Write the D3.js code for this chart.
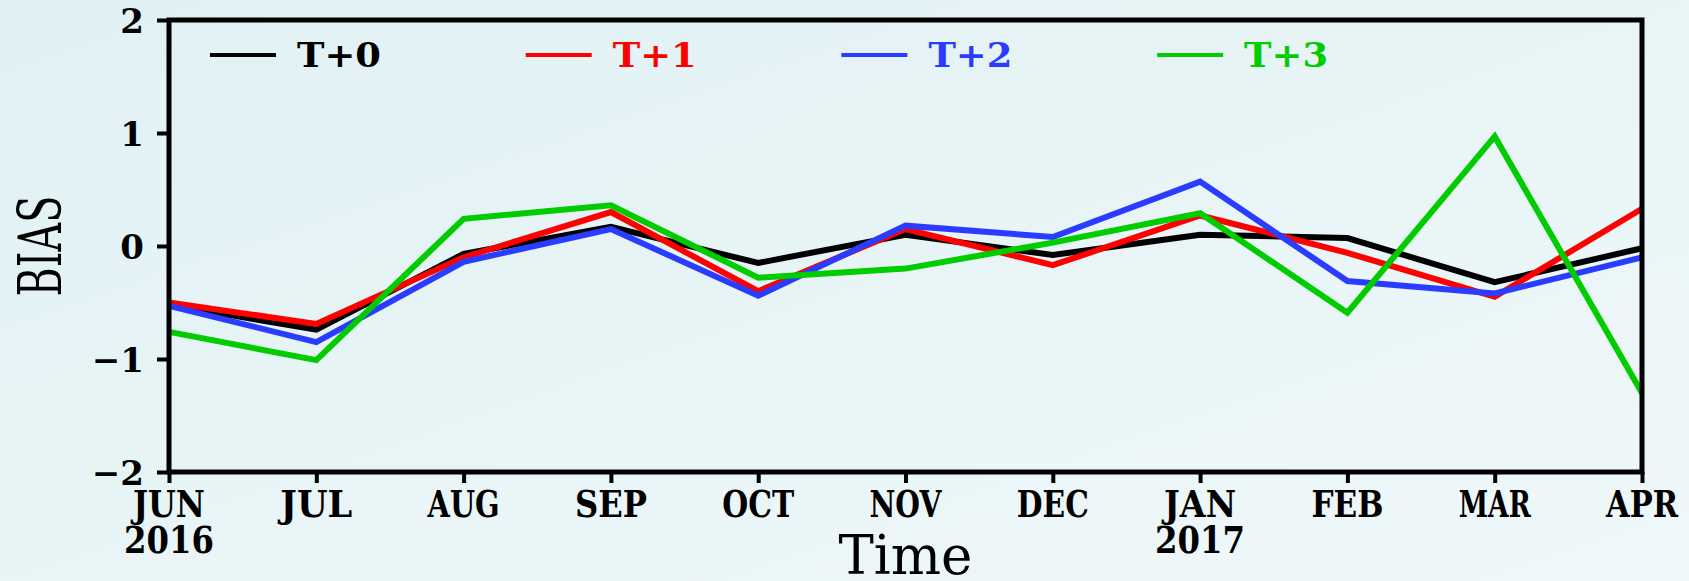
<!DOCTYPE html>
<html>
<head>
<meta charset="utf-8">
<script src="https://cdn.jsdelivr.net/npm/d3@7"></script>
<style>
  html, body { margin: 0; padding: 0; overflow: hidden; }
  body { width: 1689px; height: 581px; }
</style>
</head>
<body>
<script>
// months on the x axis, year shown under the first month of each year
var months = ["JUN", "JUL", "AUG", "SEP", "OCT", "NOV", "DEC", "JAN", "FEB", "MAR", "APR"];
var years = ["2016", "", "", "", "", "", "", "2017", "", "", ""];
var yTicks = [-2, -1, 0, 1, 2];

// BIAS per lead time
var t0 = [-0.52, -0.74, -0.07, 0.17, -0.15, 0.10, -0.08, 0.10, 0.07, -0.32, -0.02];
var t1 = [-0.50, -0.69, -0.10, 0.30, -0.40, 0.15, -0.17, 0.27, -0.06, -0.45, 0.33];
var t2 = [-0.53, -0.85, -0.14, 0.15, -0.44, 0.18, 0.08, 0.57, -0.31, -0.42, -0.10];
var t3 = [-0.76, -1.01, 0.24, 0.36, -0.28, -0.20, 0.03, 0.29, -0.59, 0.97, -1.30];

var seriesNames = ["T+0", "T+1", "T+2", "T+3"];
var seriesColors = ["#000000", "#ff0000", "#2a3cff", "#00cc00"];
var seriesValues = [t0, t1, t2, t3];

var W = 1689, H = 581;
var plotLeft = 169, plotRight = 1642, plotTop = 20, plotBottom = 472;
var serif = "'DejaVu Serif', serif";

var svg = d3.select("body").append("svg").attr("width", W).attr("height", H);

// pale background
var grad = svg.append("defs").append("linearGradient")
    .attr("id", "bg").attr("x1", 0).attr("y1", 0).attr("x2", 1).attr("y2", 1);
grad.append("stop").attr("offset", "0%").attr("stop-color", "#e0f1f4");
grad.append("stop").attr("offset", "100%").attr("stop-color", "#f0f8f9");
svg.append("rect").attr("width", W).attr("height", H).attr("fill", "url(#bg)");

var x = d3.scalePoint().domain(months).range([plotLeft, plotRight]);
var y = d3.scaleLinear().domain([-2, 2]).range([plotBottom, plotTop]);

// data lines
var line = d3.line()
    .x(function (d, i) { return x(months[i]); })
    .y(function (d) { return y(d); });

svg.append("g").selectAll("path")
    .data(seriesValues)
    .enter().append("path")
    .attr("d", line)
    .attr("fill", "none")
    .attr("stroke", function (d, i) { return seriesColors[i]; })
    .attr("stroke-width", 6)
    .attr("stroke-linejoin", "miter");

// y axis
var yAxis = svg.append("g")
    .attr("transform", "translate(" + plotLeft + ",0)")
    .call(d3.axisLeft(y).tickValues(yTicks).tickFormat(d3.format("d")).tickSize(12).tickPadding(13));
yAxis.select(".domain").remove();
yAxis.selectAll("line").attr("stroke", "#000").attr("stroke-width", 4);
yAxis.selectAll("text")
    .attr("font-family", serif).attr("font-weight", "bold")
    .attr("font-size", 34).attr("fill", "#000")
    .attr("dy", "0.36em");

// x axis
var xAxis = svg.append("g")
    .attr("transform", "translate(0," + plotBottom + ")")
    .call(d3.axisBottom(x).tickSize(11).tickFormat(""));
xAxis.select(".domain").remove();
xAxis.selectAll("line").attr("stroke", "#000").attr("stroke-width", 4);

var xLabels = svg.append("g").attr("font-family", serif).attr("font-weight", "bold")
    .attr("font-size", 37).attr("text-anchor", "middle");
xLabels.selectAll("text.month")
    .data(months)
    .enter().append("text")
    .attr("class", "month")
    .attr("x", function (d) { return x(d); })
    .attr("y", plotBottom + 45)
    .attr("textLength", function (d) { return d.length * 24; })
    .attr("lengthAdjust", "spacingAndGlyphs")
    .text(function (d) { return d; });
xLabels.selectAll("text.year")
    .data(years.filter(function (d) { return d; }))
    .enter().append("text")
    .attr("class", "year")
    .attr("x", function (d) { return x(months[years.indexOf(d)]); })
    .attr("y", plotBottom + 81)
    .attr("textLength", function (d) { return d.length * 22.5; })
    .attr("lengthAdjust", "spacingAndGlyphs")
    .text(function (d) { return d; });

// frame
svg.append("rect")
    .attr("x", plotLeft).attr("y", plotTop)
    .attr("width", plotRight - plotLeft).attr("height", plotBottom - plotTop)
    .attr("fill", "none").attr("stroke", "#000").attr("stroke-width", 5);

// axis titles
svg.append("text")
    .attr("x", (plotLeft + plotRight) / 2).attr("y", 574)
    .attr("text-anchor", "middle")
    .attr("font-family", serif).attr("font-size", 55)
    .attr("textLength", 134).attr("lengthAdjust", "spacingAndGlyphs")
    .text("Time");
svg.append("text")
    .attr("transform", "translate(61," + y(0) + ") rotate(-90)")
    .attr("text-anchor", "middle")
    .attr("font-family", serif).attr("font-size", 60)
    .attr("textLength", 101).attr("lengthAdjust", "spacingAndGlyphs")
    .text("BIAS");

// legend
var legend = svg.append("g").selectAll("g")
    .data(seriesNames)
    .enter().append("g")
    .attr("transform", function (d, i) { return "translate(" + (210 + i * 315.7) + ",55)"; });
legend.append("line")
    .attr("x1", 0).attr("x2", 66)
    .attr("stroke", function (d, i) { return seriesColors[i]; })
    .attr("stroke-width", 4);
legend.append("text")
    .attr("x", 87).attr("dy", "0.36em")
    .attr("font-family", serif).attr("font-weight", "bold").attr("font-size", 34)
    .attr("textLength", 84).attr("lengthAdjust", "spacingAndGlyphs")
    .attr("fill", function (d, i) { return seriesColors[i]; })
    .text(function (d) { return d; });
</script>
</body>
</html>
